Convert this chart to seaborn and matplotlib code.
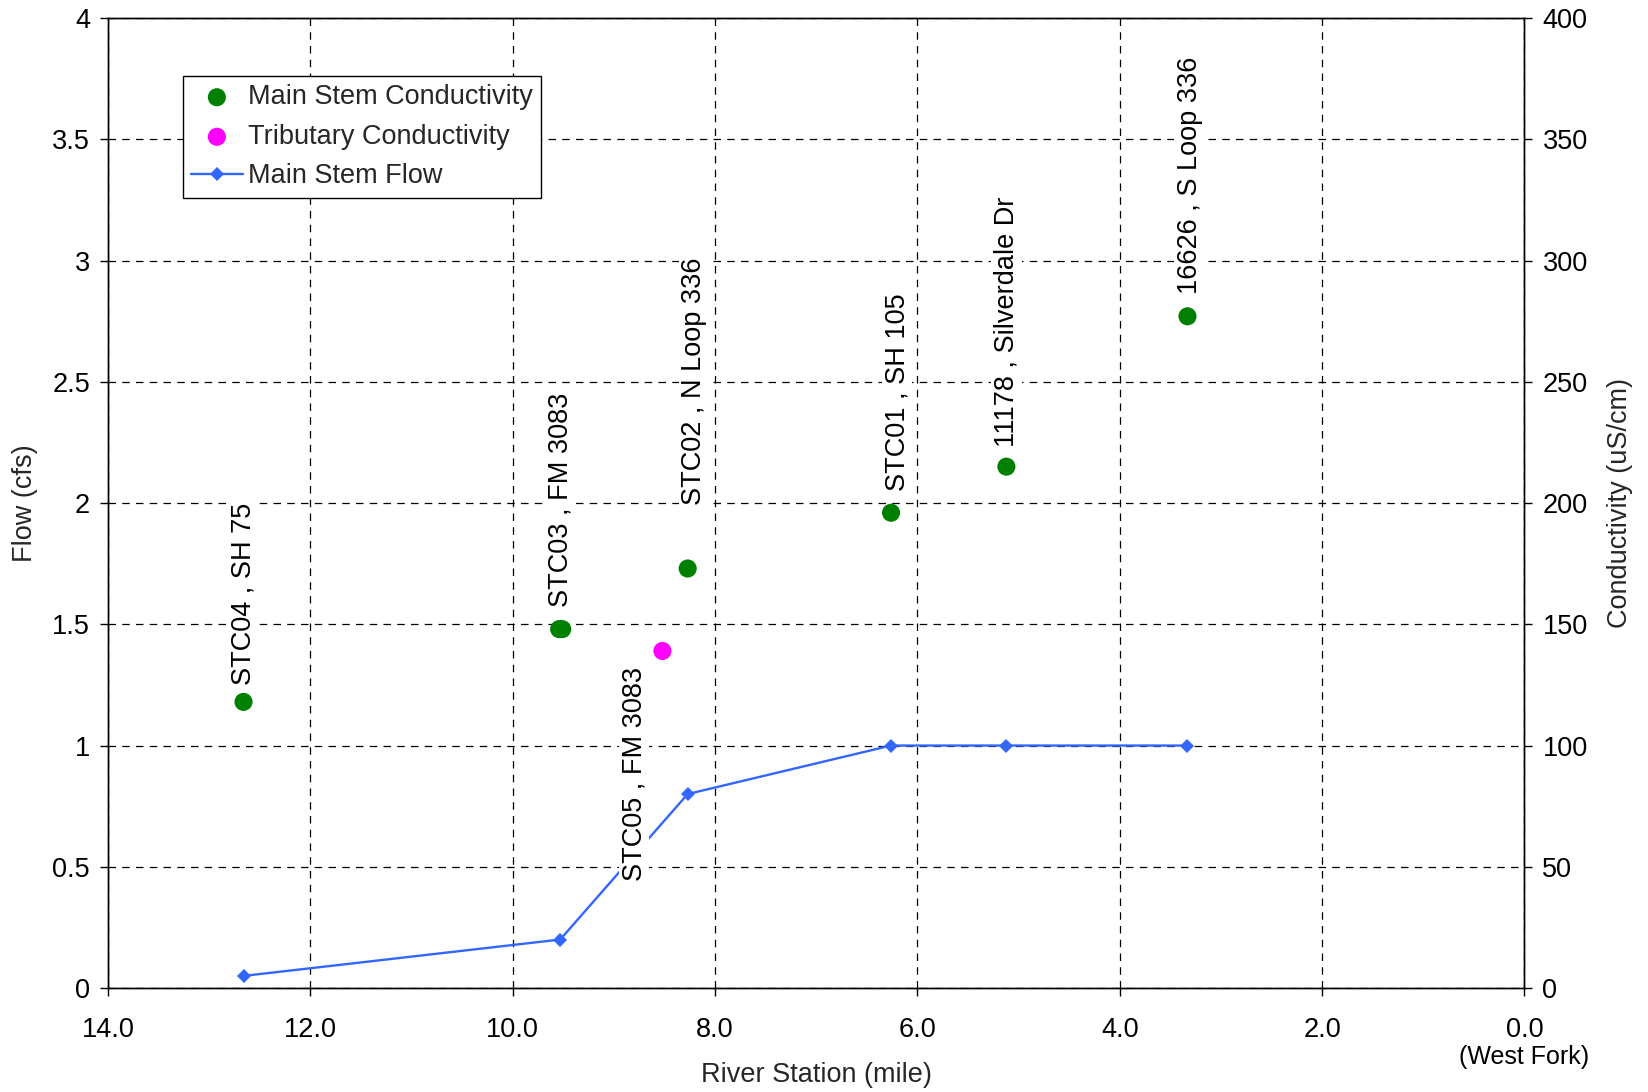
import numpy as np
import pandas as pd
import matplotlib
matplotlib.use("Agg")
import matplotlib.pyplot as plt
import seaborn as sns

# --- data ---
main_station = [12.66, 9.54, 9.51, 8.27, 6.26, 5.12, 3.33]
main_cond = [118, 148, 148, 173, 196, 215, 277]
trib_station = [8.52]
trib_cond = [139]
flow_station = [12.66, 9.53, 8.27, 6.26, 5.12, 3.33]
flow_cfs = [0.05, 0.2, 0.8, 1.0, 1.0, 1.0]

site_names = ["STC04 , SH 75", "STC03 , FM 3083", "STC05 , FM 3083",
              "STC02 , N Loop 336", "STC01 , SH 105", "11178 , Silverdale Dr",
              "16626 , S Loop 336"]
site_station = [12.66, 9.53, 8.52, 8.27, 6.26, 5.12, 3.33]
site_cond = [118, 148, 139, 173, 196, 215, 277]

x_ticks = [14, 12, 10, 8, 6, 4, 2, 0]
x_ticklabels = ["14.0", "12.0", "10.0", "8.0", "6.0", "4.0", "2.0", "0.0"]

# label placement (offsets from the point, miles / uS/cm)
label_dx = [0.0, 0.0, 0.28, -0.06, -0.06, 0.0, -0.02]
label_dy = [7, 9, -95, 26, 9, 8, 9]

sns.set_theme(style="ticks")
plt.rcParams["font.family"] = ["Liberation Sans", "DejaVu Sans"]
FS = 19.5

main_df = pd.DataFrame({"station": main_station, "cond": main_cond})
trib_df = pd.DataFrame({"station": trib_station, "cond": trib_cond})
flow_df = pd.DataFrame({"station": flow_station, "flow": flow_cfs})

fig = plt.figure(figsize=(16.48, 10.92), dpi=100)
ax = fig.add_axes([0.0655, 0.0952, 0.8595, 0.8883])
ax2 = ax.twinx()

blue = "#3366FF"
sns.lineplot(data=flow_df, x="station", y="flow", ax=ax, color=blue,
             marker="D", markersize=7, markeredgewidth=0, linewidth=1.7,
             sort=False, label="Main Stem Flow", legend=False)

sns.scatterplot(data=main_df, x="station", y="cond", ax=ax2, color="#008000",
                s=170, edgecolor="none", label="Main Stem Conductivity", legend=False)
sns.scatterplot(data=trib_df, x="station", y="cond", ax=ax2, color="#FF00FF",
                s=170, edgecolor="none", label="Tributary Conductivity", legend=False)

for name, xs, yc, dx, dy in zip(site_names, site_station, site_cond, label_dx, label_dy):
    ax2.text(xs + dx, yc + dy, name, rotation=90, ha="center", va="bottom",
             fontsize=FS, color="black", zorder=5,
             bbox=dict(facecolor="white", edgecolor="none", pad=1.5))

ax.set_xlim(14, 0)
ax.set_ylim(0, 4)
ax2.set_ylim(0, 400)
ax.set_xticks(x_ticks)
ax.set_xticklabels(x_ticklabels)
ax.set_yticks(np.arange(0, 4.01, 0.5))
ax.set_yticklabels(["0", "0.5", "1", "1.5", "2", "2.5", "3", "3.5", "4"])
ax2.set_yticks(np.arange(0, 401, 50))

ax.grid(True, color="black", linestyle=(0, (6, 5)), linewidth=0.9)
ax2.grid(False)
for a in (ax, ax2):
    a.tick_params(direction="out", length=6, width=1, pad=7, labelsize=FS, colors="black")
    for sp in a.spines.values():
        sp.set_visible(True)
        sp.set_color("black")
        sp.set_linewidth(1)
ax.tick_params(axis="x", pad=15)

ax.text(1.0, -0.059, "(West Fork)", transform=ax.transAxes, ha="center", va="top",
        fontsize=18, color="black")

ax.set_xlabel("River Station (mile)", fontsize=FS)
ax.xaxis.set_label_coords(0.5, -0.076)
ax.set_ylabel("Flow (cfs)", fontsize=FS, labelpad=10)
ax2.set_ylabel("Conductivity (uS/cm)", fontsize=FS, labelpad=14)

h1, l1 = ax2.get_legend_handles_labels()
h2, l2 = ax.get_legend_handles_labels()
leg = ax2.legend(h1 + h2, l1 + l2, loc="upper left", bbox_to_anchor=(0.053, 0.94),
                 fontsize=FS, frameon=True, fancybox=False, framealpha=1,
                 edgecolor="black", handlelength=1.9, handletextpad=0.2,
                 borderpad=0.3, labelspacing=0.5, borderaxespad=0)
leg.get_frame().set_linewidth(1)
leg.set_zorder(10)

fig.savefig("out.png", dpi=100)
plt.close()
